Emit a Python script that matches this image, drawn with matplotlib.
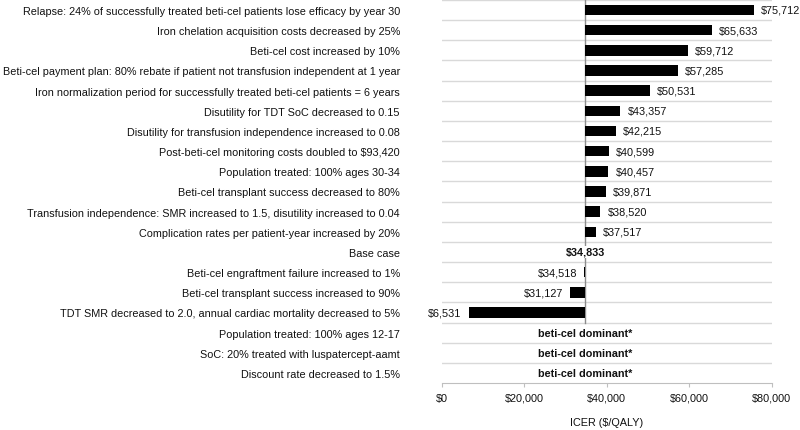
import numpy as np
import matplotlib
matplotlib.use("Agg")
import matplotlib.pyplot as plt

plt.rcParams["font.family"] = ["Liberation Sans", "DejaVu Sans"]

BASE = 34833
labels = [
    "Relapse: 24% of successfully treated beti-cel patients lose efficacy by year 30",
    "Iron chelation acquisition costs decreased by 25%",
    "Beti-cel cost increased by 10%",
    "Beti-cel payment plan: 80% rebate if patient not transfusion independent at 1 year",
    "Iron normalization period for successfully treated beti-cel patients = 6 years",
    "Disutility for TDT SoC decreased to 0.15",
    "Disutility for transfusion independence increased to 0.08",
    "Post-beti-cel monitoring costs doubled to $93,420",
    "Population treated: 100% ages 30-34",
    "Beti-cel transplant success decreased to 80%",
    "Transfusion independence: SMR increased to 1.5, disutility increased to 0.04",
    "Complication rates per patient-year increased by 20%",
    "Base case",
    "Beti-cel engraftment failure increased to 1%",
    "Beti-cel transplant success increased to 90%",
    "TDT SMR decreased to 2.0, annual cardiac mortality decreased to 5%",
    "Population treated: 100% ages 12-17",
    "SoC: 20% treated with luspatercept-aamt",
    "Discount rate decreased to 1.5%",
]
# None = beti-cel dominant
icer = [75712, 65633, 59712, 57285, 50531, 43357, 42215, 40599, 40457, 39871,
        38520, 37517, BASE, 34518, 31127, 6531, None, None, None]

fig = plt.figure(figsize=(8.0, 4.31), dpi=100)
ax = fig.add_axes([0.552, 0.109, 0.4125, 0.889])
n = len(labels)
ax.set_xlim(0, 80000)
ax.set_ylim(n - 0.5, -0.5)

# row separators
for b in np.arange(-0.5, n - 0.5, 1.0):
    ax.axhline(b, color="#d9d9d9", lw=1.0, zorder=0)

last_bar = max(i for i, v in enumerate(icer) if v is not None)
ax.plot([BASE, BASE], [-0.5, last_bar + 0.5], color="#8c8c8c", lw=1.0, zorder=1)

fs = 7.8
for i, v in enumerate(icer):
    if v is None:
        ax.text(BASE, i, "beti-cel dominant*", ha="center", va="center",
                fontsize=fs, fontweight="bold", color="#111111")
        continue
    if i == labels.index("Base case"):
        ax.text(BASE, i, f"${v:,.0f}", ha="center", va="center", fontsize=fs,
                fontweight="bold", color="#111111", zorder=3,
                bbox=dict(facecolor="white", edgecolor="none", pad=1.0))
        continue
    ax.barh(i, v - BASE, left=BASE, height=0.52, color="black", zorder=2)
    if v >= BASE:
        ax.annotate(f"${v:,.0f}", (v, i), (5, 0), textcoords="offset points",
                    ha="left", va="center", fontsize=fs, color="#111111")
    else:
        ax.annotate(f"${v:,.0f}", (v, i), (-5, 0), textcoords="offset points",
                    ha="right", va="center", fontsize=fs, color="#111111")

ax.set_yticks(range(n))
ax.set_yticklabels(labels, fontsize=fs, color="#111111")
ax.tick_params(axis="y", length=0, pad=30)
ax.set_xticks([0, 20000, 40000, 60000, 80000])
ax.set_xticklabels(["$0", "$20,000", "$40,000", "$60,000", "$80,000"],
                   fontsize=fs, color="#111111")
ax.tick_params(axis="x", length=3, color="#bfbfbf", pad=4)
for sp in ("top", "right", "left"):
    ax.spines[sp].set_visible(False)
ax.spines["bottom"].set_color("#bfbfbf")
ax.set_xlabel("ICER ($/QALY)", fontsize=fs, color="#111111", labelpad=10)

fig.savefig("out.png", dpi=100)
